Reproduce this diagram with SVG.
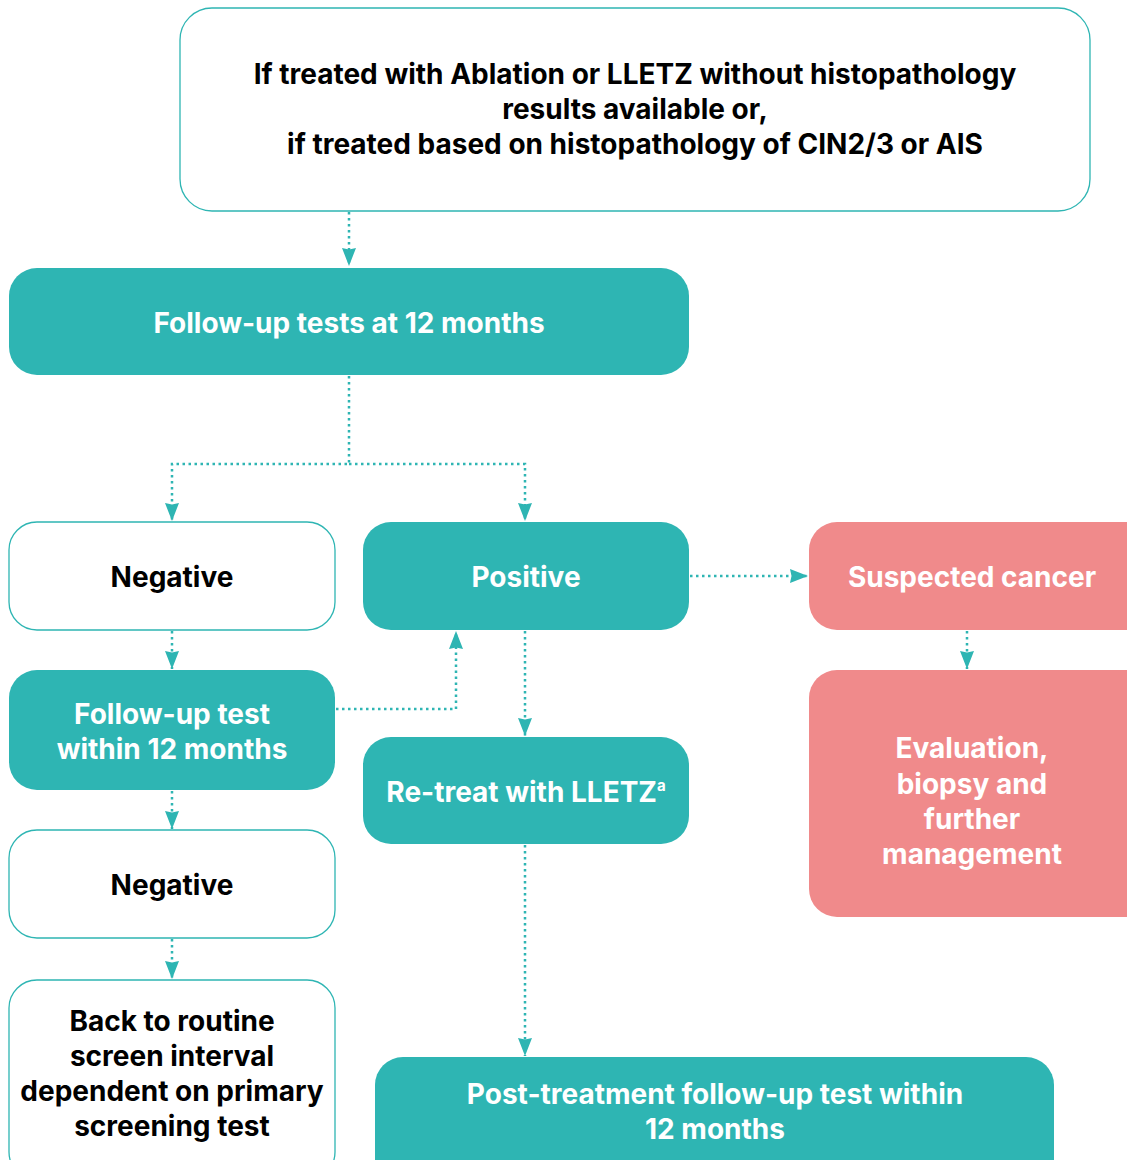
<svg xmlns="http://www.w3.org/2000/svg" width="1127" height="1160" viewBox="0 0 1127 1160">
<defs>
<style>
.outline{fill:#fff;stroke:#2EB5B3;stroke-width:1.3}
.teal{fill:#2EB5B3}
.pink{fill:#F08A8B}
.t{font-family:Inter,"Noto Sans",sans-serif;font-weight:700;font-size:28px;text-anchor:middle}
.dk{fill:#000}
.wt{fill:#fff}
.c{fill:none;stroke:#2EB5B3;stroke-width:2.5;stroke-dasharray:2.5 3.5}
</style>
<marker id="ah" viewBox="0 0 18 14" refX="18" refY="7" markerWidth="18" markerHeight="14" markerUnits="userSpaceOnUse" orient="auto">
<path d="M0,0 L18,7 L0,14 L1.5,7 Z" fill="#2EB5B3"/>
</marker>
</defs>
<rect width="1127" height="1160" fill="#fff"/>
<g id="connectors">
<path class="c" d="M349,212 V266" marker-end="url(#ah)"/>
<path class="c" d="M349,376 V464 H172 V521" marker-end="url(#ah)"/>
<path class="c" d="M349,464 H525 V521" marker-end="url(#ah)"/>
<path class="c" d="M690,576 H808" marker-end="url(#ah)"/>
<path class="c" d="M967,631 V669" marker-end="url(#ah)"/>
<path class="c" d="M172,631 V669" marker-end="url(#ah)"/>
<path class="c" d="M336,709 H456 V631" marker-end="url(#ah)"/>
<path class="c" d="M525,631 V736" marker-end="url(#ah)"/>
<path class="c" d="M172,791 V829" marker-end="url(#ah)"/>
<path class="c" d="M172,939 V979" marker-end="url(#ah)"/>
<path class="c" d="M525,845 V1056" marker-end="url(#ah)"/>
</g>
<g id="n-top">
<rect class="outline" x="180" y="8" width="910" height="203" rx="32"/>
<text class="t dk" x="635" y="84">If treated with Ablation or LLETZ without histopathology</text>
<text class="t dk" x="635" y="119">results available or,</text>
<text class="t dk" x="635" y="154">if treated based on histopathology of CIN2/3 or AIS</text>
</g>
<g id="n-fu12">
<rect class="teal" x="9" y="268" width="680" height="107" rx="28"/>
<text class="t wt" x="349" y="333">Follow-up tests at 12 months</text>
</g>
<g id="n-neg1">
<rect class="outline" x="9" y="522" width="326" height="108" rx="28"/>
<text class="t dk" x="172" y="587">Negative</text>
</g>
<g id="n-pos">
<rect class="teal" x="363" y="522" width="326" height="108" rx="28"/>
<text class="t wt" x="526" y="587">Positive</text>
</g>
<g id="n-susp">
<rect class="pink" x="809" y="522" width="345" height="108" rx="28"/>
<text class="t wt" x="972" y="587">Suspected cancer</text>
</g>
<g id="n-eval">
<rect class="pink" x="809" y="670" width="345" height="247" rx="28"/>
<text class="t wt" x="972" y="758">Evaluation,</text>
<text class="t wt" x="972" y="794">biopsy and</text>
<text class="t wt" x="972" y="829">further</text>
<text class="t wt" x="972" y="864">management</text>
</g>
<g id="n-futest">
<rect class="teal" x="9" y="670" width="326" height="120" rx="28"/>
<text class="t wt" x="172" y="724">Follow-up test</text>
<text class="t wt" x="172" y="759">within 12 months</text>
</g>
<g id="n-retreat">
<rect class="teal" x="363" y="737" width="326" height="107" rx="28"/>
<text class="t wt" x="526" y="802">Re-treat with LLETZ<tspan font-size="15" dy="-11">a</tspan></text>
</g>
<g id="n-neg2">
<rect class="outline" x="9" y="830" width="326" height="108" rx="28"/>
<text class="t dk" x="172" y="895">Negative</text>
</g>
<g id="n-back">
<rect class="outline" x="9" y="980" width="326" height="200" rx="28"/>
<text class="t dk" x="172" y="1031">Back to routine</text>
<text class="t dk" x="172" y="1066">screen interval</text>
<text class="t dk" x="172" y="1101">dependent on primary</text>
<text class="t dk" x="172" y="1136">screening test</text>
</g>
<g id="n-post">
<rect class="teal" x="375" y="1057" width="679" height="130" rx="28"/>
<text class="t wt" x="715" y="1104">Post-treatment follow-up test within</text>
<text class="t wt" x="715" y="1139">12 months</text>
</g>
</svg>
